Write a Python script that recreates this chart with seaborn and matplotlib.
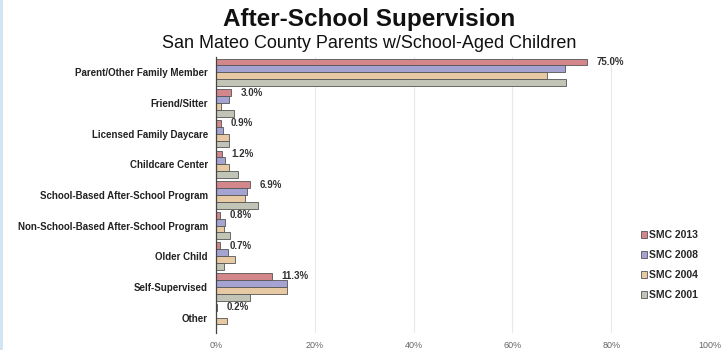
import matplotlib.pyplot as plt
import seaborn as sns
import pandas as pd
import numpy as np

categories = [
    "Parent/Other Family Member",
    "Friend/Sitter",
    "Licensed Family Daycare",
    "Childcare Center",
    "School-Based After-School Program",
    "Non-School-Based After-School Program",
    "Older Child",
    "Self-Supervised",
    "Other",
]
series = ["SMC 2013", "SMC 2008", "SMC 2004", "SMC 2001"]
smc_2013 = [75.0, 3.0, 0.9, 1.2, 6.9, 0.8, 0.7, 11.3, 0.2]
smc_2008 = [70.6, 2.6, 1.4, 1.8, 6.3, 1.8, 2.4, 14.3, np.nan]
smc_2004 = [67.0, 1.0, 2.6, 2.6, 5.9, 1.6, 3.8, 14.3, 2.2]
smc_2001 = [70.8, 3.6, 2.6, 4.5, 8.5, 2.8, 1.6, 6.9, np.nan]
x_ticks = [0, 20, 40, 60, 80, 100]
colors = ["#E07A80", "#9C9BDA", "#F2CA98", "#C3C7B4"]

rows = []
for name, vals in zip(series, [smc_2013, smc_2008, smc_2004, smc_2001]):
    for cat, v in zip(categories, vals):
        rows.append({"category": cat, "series": name, "value": v})
df = pd.DataFrame(rows)

sns.set_style("white")
plt.rcParams["font.family"] = ["Liberation Sans", "DejaVu Sans"]

fig = plt.figure(figsize=(7.23, 3.5), dpi=100)
ax = fig.add_axes([0.299, 0.049, 0.683, 0.788])

sns.barplot(data=df, x="value", y="category", hue="series", orient="h",
            palette=colors, width=0.9, edgecolor="#555555", linewidth=0.6,
            ax=ax, legend=True)

ax.set_xlim(0, 100)
ax.set_ylim(8.5, -0.5)
ax.set_xticks(x_ticks)
ax.set_xticklabels([f"{t}%" for t in x_ticks], fontsize=6.5, color="#666666")
ax.tick_params(axis="x", length=0, pad=6)
ax.tick_params(axis="y", length=0, pad=6)
for lbl in ax.get_yticklabels():
    lbl.set_fontweight("bold")
    lbl.set_fontsize(7)
    lbl.set_color("#222222")
ax.set_xlabel("")
ax.set_ylabel("")
ax.xaxis.grid(True, color="#e8e8e8", linewidth=0.8)
ax.set_axisbelow(True)
for s in ["top", "right", "bottom"]:
    ax.spines[s].set_visible(False)
ax.spines["left"].set_color("#444444")
ax.spines["left"].set_linewidth(0.9)

# value labels for 2013
for i, v in enumerate(smc_2013):
    ax.annotate(f"{v:.1f}%", xy=(v, i - 0.34), xytext=(7, 0),
                textcoords="offset points", fontsize=7, fontweight="bold",
                color="#333333", va="center", ha="left")

handles, labels = ax.get_legend_handles_labels()
ax.legend(handles, labels, loc="lower right", bbox_to_anchor=(0.995, 0.085),
          frameon=False, handlelength=0.6, handleheight=0.6, handletextpad=0.2,
          labelspacing=0.95, prop={"weight": "bold", "size": 7.5})

fig.text(0.51, 0.945, "After-School Supervision", ha="center", va="center",
         fontsize=17.5, fontweight="bold", color="#111111")
fig.text(0.51, 0.875, "San Mateo County Parents w/School-Aged Children",
         ha="center", va="center", fontsize=13, color="#111111")

# thin light-blue frame edge on the left
fig.add_artist(plt.Line2D([0.002, 0.002], [0, 1], color="#cfe2f3",
                          linewidth=2, transform=fig.transFigure))

fig.savefig("out.png", dpi=100)
